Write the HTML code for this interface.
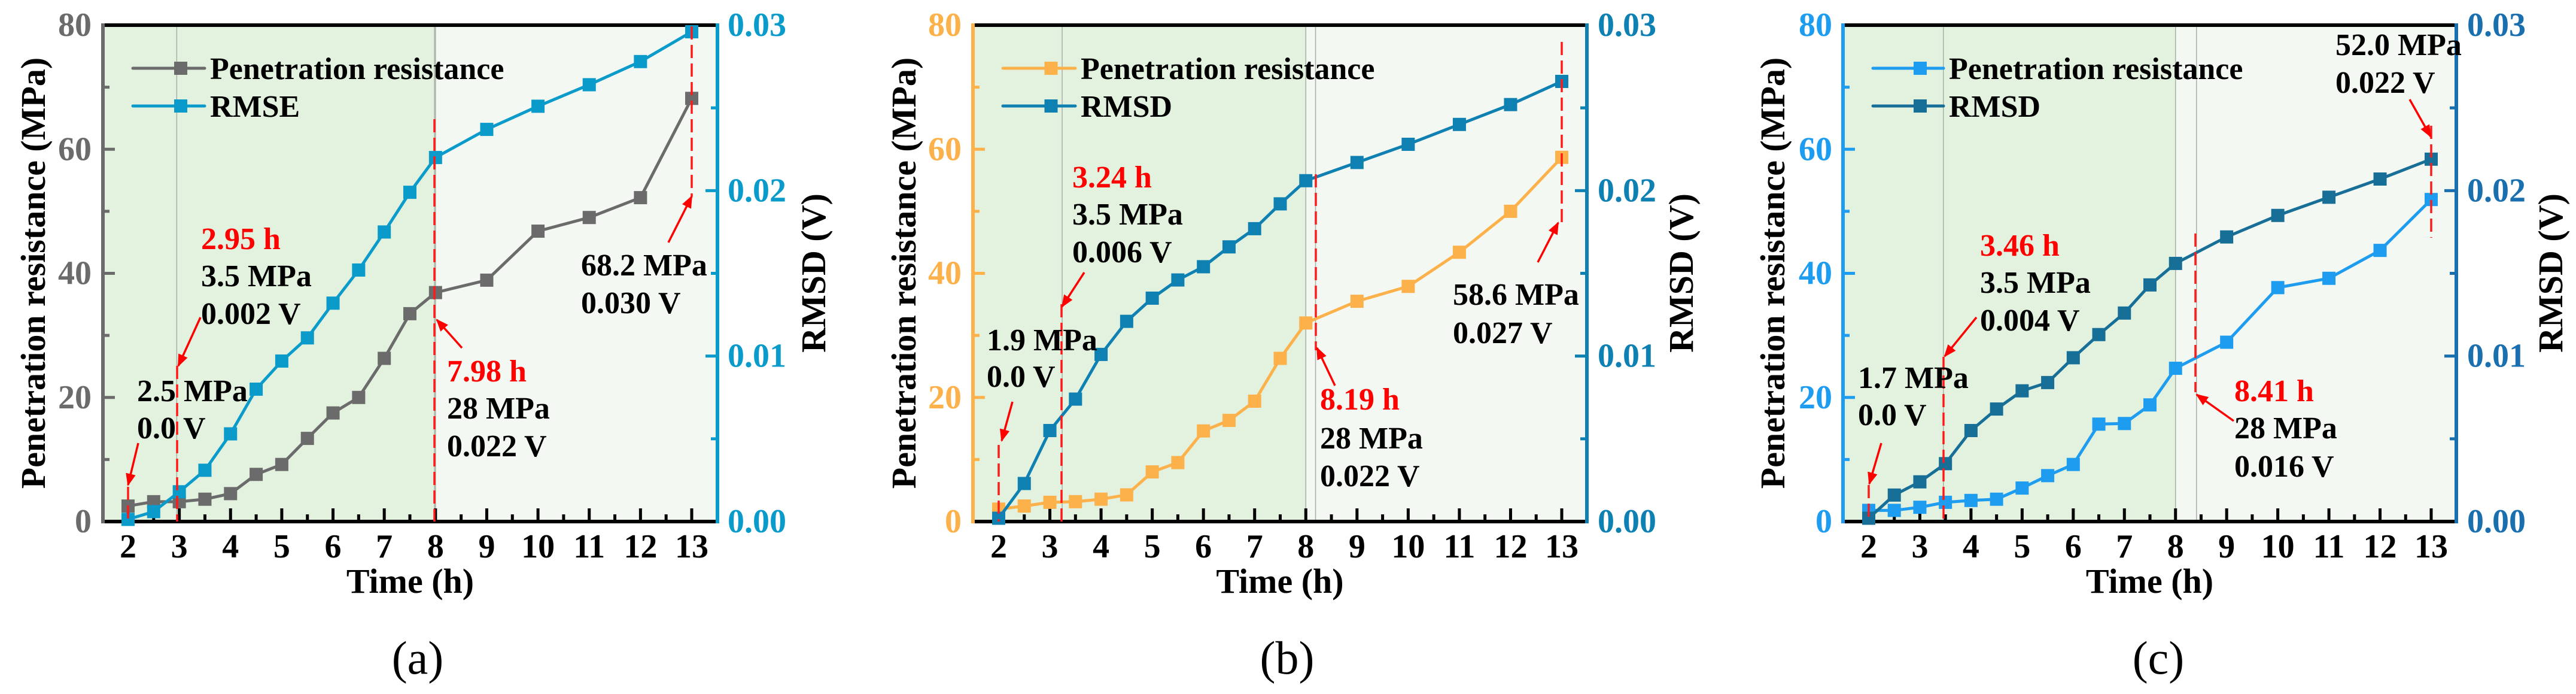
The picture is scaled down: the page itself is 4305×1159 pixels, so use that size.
<!DOCTYPE html>
<html><head><meta charset="utf-8"><style>
html,body{margin:0;padding:0;background:#fff;}
svg, svg text{font-family:"Liberation Serif","DejaVu Serif",serif;}
</style></head><body>
<svg id="fig" width="4305" height="1154" viewBox="0 0 4305 1154" xmlns="http://www.w3.org/2000/svg" font-family="Liberation Serif, serif" font-weight="bold"></svg>
<script>
// ---- data ----
const timesA = [2,2.5,3,3.5,4,4.5,5,5.5,6,6.5,7,7.5,8,9,10,11,12,13];
const prA = [2.5,3.2,3.2,3.6,4.5,7.6,9.2,13.4,17.5,20,26.3,33.5,36.9,38.9,46.8,49,52.2,68.2];
const rmsA = [0.00013,0.0006,0.0018,0.0031,0.0053,0.008,0.0097,0.0111,0.0132,0.0152,0.0175,0.0199,0.022,0.0237,0.0251,0.0264,0.0278,0.0296];
const prB = [2.0,2.5,3.1,3.2,3.6,4.3,8,9.5,14.6,16.3,19.4,26.3,32,35.5,37.9,43.4,50,58.7];
const rmsB = [0.0002,0.0023,0.0055,0.0074,0.0101,0.0121,0.0135,0.0146,0.0154,0.0166,0.0177,0.0192,0.0206,0.0217,0.0228,0.024,0.0252,0.0266];
const prC = [1.8,1.8,2.3,3.1,3.4,3.6,5.4,7.4,9.2,15.7,15.8,18.8,24.7,28.9,37.7,39.2,43.7,51.9];
const rmsC = [0.0002,0.0016,0.0024,0.0035,0.0055,0.0068,0.0079,0.0084,0.0099,0.0113,0.0126,0.0143,0.0156,0.0172,0.0185,0.0196,0.0207,0.0219];
const xTicks = [2,3,4,5,6,7,8,9,10,11,12,13];
const yTicksL = [0,20,40,60,80];
const yTicksR = [0,0.01,0.02,0.03];
const yTickLabelsR = ["0.00","0.01","0.02","0.03"];

const svg = document.getElementById('fig');
const NS = 'http://www.w3.org/2000/svg';
function mk(tag, attrs, parent){const e=document.createElementNS(NS,tag);for(const k in attrs)e.setAttribute(k,attrs[k]);if(tag==='text'){e.setAttribute('font-family','Liberation Serif, serif');if(!attrs['font-weight'])e.setAttribute('font-weight','bold');}(parent||svg).appendChild(e);return e;}

const panels = [
 {id:'a',left:172,right:1199,x2:214,x13:1156,prColor:'#6b6b6b',rmColor:'#0a9bcb',lAxis:'#6b6b6b',rAxis:'#0a9bcb',pr:prA,rm:rmsA,rmName:'RMSE',
  split:8,g1:2.95,g2:7.98,ylab:55,rlab:1359,ltick:153,rtick:1216,leg:[222,342,351],title:698,
  texts:[['2.95 h',336,416,'red'],['3.5 MPa',336,478],['0.002 V',336,541],['2.5 MPa',229,670],['0.0 V',229,732],['7.98 h',747,637,'red'],['28 MPa',747,699],['0.022 V',747,762],['68.2 MPa',971,460],['0.030 V',971,523]],
  dashes:[[214,813,871],[296,611,871],[726,199,871],[1156,44,328]],
  arrows:[[231,740,214,810],[335,530,298,611],[772,581,730,534],[1117,405,1156,328]]},
 {id:'b',left:1626,right:2652,x2:1669,x13:2610,prColor:'#fcb14a',rmColor:'#0e80b2',lAxis:'#fcb14a',rAxis:'#0e80b2',pr:prB,rm:rmsB,rmName:'RMSD',
  split:8,g1:3.24,g2:8.19,ylab:1510,rlab:2809,ltick:1607,rtick:2670,leg:[1676,1797,1806],title:2151,
  texts:[['3.24 h',1792,313,'red'],['3.5 MPa',1792,375],['0.006 V',1792,438],['1.9 MPa',1649,585],['0.0 V',1649,646],['8.19 h',2206,684,'red'],['28 MPa',2206,749],['0.022 V',2206,812],['58.6 MPa',2428,509],['0.027 V',2428,573]],
  dashes:[[1669,743,871],[1774,508,871],[2199,291,585],[2610,70,372]],
  arrows:[[1692,671,1674,736],[1812,455,1775,512],[2231,644,2201,581],[2570,438,2604,372]]},
 {id:'c',left:3080,right:4105,x2:3123,x13:4063,prColor:'#1e9cf0',rmColor:'#176f98',lAxis:'#1e9cf0',rAxis:'#1a6fae',pr:prC,rm:rmsC,rmName:'RMSD',
  split:8,g1:3.46,g2:8.41,ylab:2962,rlab:4262,ltick:3062,rtick:4123,leg:[3130,3248,3257],title:3607,
  texts:[['3.46 h',3309,427,'red'],['3.5 MPa',3309,489],['0.004 V',3309,552],['1.7 MPa',3105,648],['0.0 V',3105,710],['8.41 h',3734,670,'red'],['28 MPa',3734,732],['0.016 V',3734,796],['52.0 MPa',3903,92],['0.022 V',3903,155]],
  dashes:[[3123,810,871],[3248,596,871],[3669,390,655],[4063,210,397]],
  arrows:[[3144,740,3124,808],[3303,530,3250,595],[3733,703,3671,659],[4027,166,4062,228]]}
];

const TOP=42, BOT=871;
mk('defs',{}).innerHTML='<marker id="ah" viewBox="0 0 10 10" refX="9" refY="5" markerWidth="6" markerHeight="6" orient="auto"><path d="M0,1 L10,5 L0,9 z" fill="#ff0000"/></marker>';

panels.forEach(p=>{
  const g = mk('g',{});  
  const sx = t => p.x2 + (t-2)*(p.x13-p.x2)/11;
  const syL = v => BOT - v/80*(BOT-TOP);
  const syR = v => BOT - v/0.03*(BOT-TOP);
  const s1=mk('rect',{x:p.left,y:TOP,width:sx(p.split)-p.left,height:BOT-TOP,fill:'#e3f1df'},g);
  
  const s2=mk('rect',{x:sx(p.split),y:TOP,width:p.right-sx(p.split),height:BOT-TOP,fill:'#f3f9f2'},g);
  
  [p.g1,p.g2,p.split].forEach(t=>{const l=mk('line',{x1:sx(t),x2:sx(t),y1:TOP,y2:BOT,stroke:'#a8b0a6','stroke-width':1.5},g);});
  for(let t=2;t<=13.01;t+=0.5){const maj=Math.abs(t-Math.round(t))<0.01;mk('line',{x1:sx(t),x2:sx(t),y1:BOT,y2:BOT-(maj?22:12),stroke:'#000','stroke-width':5},g);}
  xTicks.forEach(t=>{const tx=mk('text',{x:sx(t),y:931,'font-size':56,'text-anchor':'middle',fill:'#000'},g);tx.textContent=t;});
  for(let v=0;v<=80;v+=10){mk('line',{x1:p.left,x2:p.left+(v%20==0?20:11),y1:syL(v),y2:syL(v),stroke:p.lAxis,'stroke-width':5},g);}
  yTicksL.forEach(v=>{const tx=mk('text',{x:p.ltick,y:syL(v)+18,'font-size':56,'text-anchor':'end',fill:p.lAxis},g);tx.textContent=v;});
  for(let i=0;i<=6;i++){const v=i*0.005;mk('line',{x1:p.right,x2:p.right-(i%2==0?20:11),y1:syR(v),y2:syR(v),stroke:p.rAxis,'stroke-width':5},g);}
  yTicksR.forEach((v,i)=>{const tx=mk('text',{x:p.rtick,y:syR(v)+18,'font-size':56,fill:p.rAxis},g);tx.textContent=yTickLabelsR[i];});
  const ax1=mk('line',{x1:p.left,x2:p.right,y1:TOP,y2:TOP,stroke:'#000','stroke-width':6},g);
  const ax2=mk('line',{x1:p.left,x2:p.right,y1:BOT,y2:BOT,stroke:'#000','stroke-width':6},g);
  const ax3=mk('line',{x1:p.left,x2:p.left,y1:TOP-3,y2:BOT+3,stroke:p.lAxis,'stroke-width':6},g);
  const ax4=mk('line',{x1:p.right,x2:p.right,y1:TOP-3,y2:BOT+3,stroke:p.rAxis,'stroke-width':6},g);
  const series=[[p.pr,syL,p.prColor,'penetration-resistance'],[p.rm,syR,p.rmColor,'rmsd']];
  series.forEach(([d,sy,c,n])=>{
    const pts=timesA.map((t,i)=>sx(t)+','+sy(d[i])).join(' ');
    const pl=mk('polyline',{points:pts,fill:'none',stroke:c,'stroke-width':5,'stroke-linejoin':'round'},g);
    
    timesA.forEach((t,i)=>{const r=mk('rect',{x:sx(t)-11,y:sy(d[i])-11,width:22,height:22,fill:c},g);});
  });
  p.dashes.forEach(([x,y1,y2])=>{const l=mk('line',{x1:x,x2:x,y1:y1,y2:y2,stroke:'#ff1a1a','stroke-width':3.5,'stroke-dasharray':'22 9'},g);});
  p.arrows.forEach(([x1,y1,x2,y2])=>{const l=mk('line',{x1,y1,x2,y2,stroke:'#ff0000','stroke-width':3.5,'marker-end':'url(#ah)'},g);});
  p.texts.forEach(([s,x,y,c])=>{const tx=mk('text',{x,y,'font-size':52,fill:c?'#ff0000':'#000'},g);tx.textContent=s;});
  [[p.prColor,'Penetration resistance',114],[p.rmColor,p.rmName,177]].forEach(([c,s,y])=>{
    const l=mk('line',{x1:p.leg[0],x2:p.leg[1],y1:y,y2:y,stroke:c,'stroke-width':5,'stroke-linecap':'round'},g);
    const r=mk('rect',{x:(p.leg[0]+p.leg[1])/2+9,y:y-11,width:22,height:22,fill:c},g);
    const tx=mk('text',{x:p.leg[2],y:y+18,'font-size':52,fill:'#000'},g);tx.textContent=s;
  });
  const xt=mk('text',{x:(p.left+p.right)/2,y:990,'font-size':58,'text-anchor':'middle',fill:'#000'},g);xt.textContent='Time (h)';
  const yt=mk('text',{x:0,y:0,'font-size':58,'text-anchor':'middle',fill:'#000',transform:`translate(${p.ylab+20},456) rotate(-90)`},g);yt.textContent='Penetration resistance (MPa)';
  const rt=mk('text',{x:0,y:0,'font-size':58,'text-anchor':'middle',fill:'#000',transform:`translate(${p.rlab+20},456) rotate(-90)`},g);rt.textContent='RMSD (V)';
  const pt=mk('text',{x:p.title,y:1125,'font-size':78,'text-anchor':'middle',fill:'#000','font-weight':'normal'},g);pt.textContent='('+p.id+')';
});
</script>
</body></html>
